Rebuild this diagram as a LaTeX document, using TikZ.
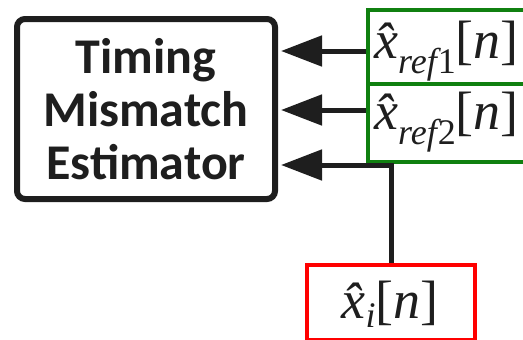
\documentclass[tikz,border=0pt]{standalone}
\usepackage{amsmath, amssymb}
\usepackage{fontspec}
\newfontfamily\estfont{Carlito}
\newfontfamily\sigfont{Liberation Serif}
\usepackage{tikz}
\usetikzlibrary{arrows.meta}

\newcommand{\sigsub}[2][15pt]{\raisebox{-#1}{\fontsize{36}{36}\selectfont #2}}
\newcommand{\sigref}[1]{\itshape\^{x}\sigsub{ref\kern1pt\upshape #1}\upshape[\itshape n\upshape]}

\definecolor{boxgreen}{RGB}{16,128,16}
\definecolor{boxred}{RGB}{255,0,0}
\definecolor{ink}{RGB}{30,30,30}

\tikzset{
  estbox/.style={draw=ink, line width=6pt, rounded corners=8pt, minimum width=258pt, minimum height=180pt, align=center, text=ink, font=\estfont\bfseries\fontsize{50}{53}\selectfont},
  refbox/.style={draw=boxgreen, line width=4pt, minimum width=230pt, anchor=north west},
  inbox/.style={draw=boxred, line width=4pt, minimum width=168pt, minimum height=75pt, anchor=north},
  sig/.style={inner sep=0pt, text=ink, font=\sigfont\fontsize{54}{54}\selectfont},
  feed/.style={draw=ink, line width=5pt, -{Triangle[length=41pt,width=30pt]}}
}

\begin{document}
\begin{tikzpicture}[x=1pt,y=-1pt]
				\clip (0,0) rectangle (523,340);
				% Dibujar el estimador
				\node[estbox] (est) at (146,109) {Timing\\Mismatch\\Estimator};
	
				% Dibujar las referencias
				\node[refbox, minimum height=74pt] (ref1) at (366,8) {};
				\node[refbox, minimum height=78pt] (ref2) at (366,82) {};
				\node[sig, anchor=base west] (lab1) at (374,58) {\sigref{1}};
				\node[sig, anchor=base west] (lab2) at (374,129) {\sigref{2}};
	
				% Dibujar la entrada
				\node[inbox] (xi) at (391,263) {};
				\node[sig, anchor=base] (labi) at (390,318) {\itshape\^{x}\sigsub[9pt]{i}\upshape[\itshape n\upshape]};
	
				% Dibujar las flechas
				\draw[feed] ([yshift=-4pt]ref1.west) coordinate (f1) -- ([xshift=3pt]est.east |- f1);
				\draw[feed] ([yshift=13pt]ref2.west) coordinate (f2) -- ([xshift=3pt]est.east |- f2);
				\draw[feed] (xi.north) |- ([xshift=3pt,yshift=-56pt]est.east);
	
			\end{tikzpicture}
\end{document}
